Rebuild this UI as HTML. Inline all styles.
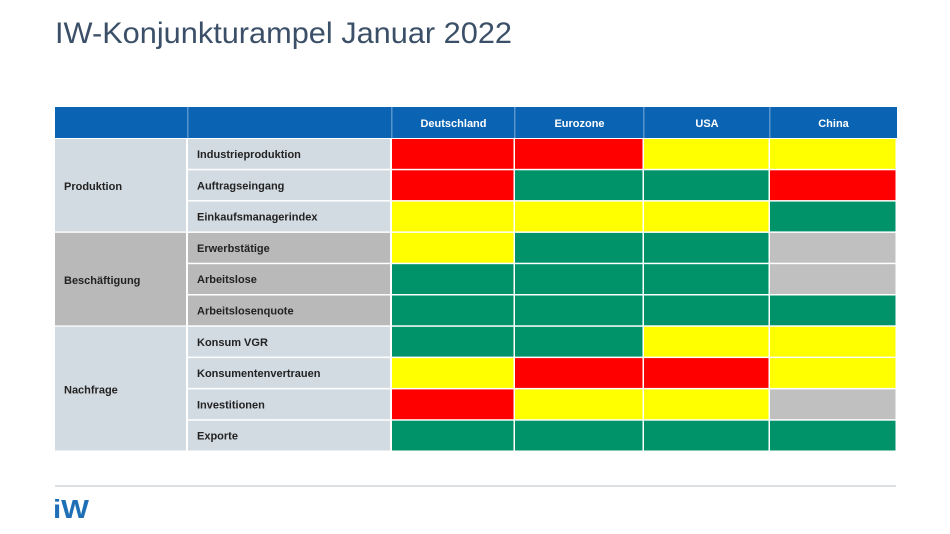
<!DOCTYPE html>
<html><head><meta charset="utf-8"><style>body{margin:0;background:#fff}svg{display:block}</style></head>
<body>
<svg width="950" height="534" xmlns="http://www.w3.org/2000/svg" font-family="Liberation Sans, sans-serif">
<rect width="950" height="534" fill="#fff"/>
<text x="55" y="43" font-size="30" fill="#3b5068" textLength="457" lengthAdjust="spacingAndGlyphs">IW-Konjunkturampel Januar 2022</text>
<g id="t"></g>
<line x1="55" y1="486" x2="896" y2="486" stroke="#d0d5da" stroke-width="1.5"/>
<text x="53" y="518" font-size="26" font-weight="bold" fill="#1e6fb5" textLength="36" lengthAdjust="spacingAndGlyphs">iW</text>
</svg>
<script>
var g=document.getElementById('t'),ns='http://www.w3.org/2000/svg';
function r(x,y,w,h,f){var e=document.createElementNS(ns,'rect');e.setAttribute('x',x);e.setAttribute('y',y);e.setAttribute('width',w);e.setAttribute('height',h);e.setAttribute('fill',f);g.appendChild(e);}
function t(x,y,s,c,a){var e=document.createElementNS(ns,'text');e.setAttribute('x',x);e.setAttribute('y',y);e.setAttribute('font-size',11);e.setAttribute('font-weight','bold');e.setAttribute('fill',c);if(a)e.setAttribute('text-anchor','middle');e.textContent=s;g.appendChild(e);}
var cx=[55,188,392,515,644,770,897];
r(55,107,842,31,'#0b64b3');
var hd=['Deutschland','Eurozone','USA','China'];
for(var i=0;i<4;i++){t((cx[i+2]+cx[i+3])/2,127,hd[i],'#fff',1);}
for(var i=1;i<6;i++)r(cx[i]-1,107,1.5,31,'#5a93cc');
var labels=['Industrieproduktion','Auftragseingang','Einkaufsmanagerindex','Erwerbstätige','Arbeitslose','Arbeitslosenquote','Konsum VGR','Konsumentenvertrauen','Investitionen','Exporte'];
var C={R:'#fe0000',Y:'#ffff00',G:'#00936a',S:'#c0c0c0'};
var d=['RRYY','RGGR','YYYG','YGGS','GGGS','GGGG','GGYY','YRRY','RYYS','GGGG'];
var y0=139,h=31.3;
for(var i=0;i<10;i++){var y=y0+i*h;var lb=(i>=3&&i<6)?'#b9b9b9':'#d3dbe2';
r(55,y,131,h-1.5,lb);r(188,y,202,h-1.5,lb);
t(197,y+19,labels[i],'#222');
for(var j=0;j<4;j++)r(cx[j+2],y,cx[j+3]-cx[j+2]-1.5,h-1.5,C[d[i][j]]);}
// merge group label cells
r(55,y0,131,3*h-1.5,'#d3dbe2');r(55,y0+3*h,131,3*h-1.5,'#b9b9b9');r(55,y0+6*h,131,4*h-1.5,'#d3dbe2');
t(64,y0+1.5*h+4,'Produktion','#222');t(64,y0+4.5*h+4,'Beschäftigung','#222');t(64,y0+8*h+4,'Nachfrage','#222');
</script>
</body></html>
